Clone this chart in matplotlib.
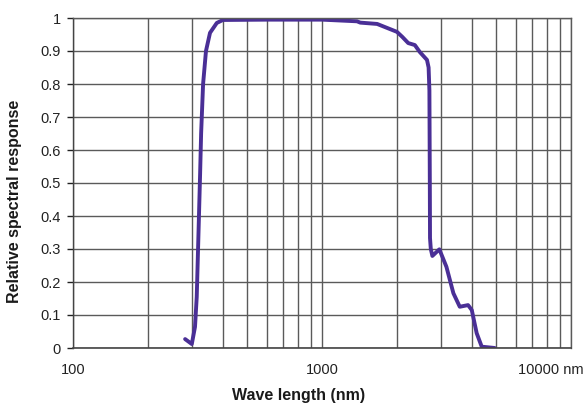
import matplotlib
matplotlib.use("Agg")
import matplotlib.pyplot as plt
import matplotlib.transforms as mtransforms
from matplotlib.ticker import FixedLocator, FixedFormatter, LogLocator, NullFormatter
from matplotlib import font_manager

wavelength = [282, 300, 309, 314, 320, 324, 327, 333, 342, 355, 378, 400, 600, 1000,
              1382, 1424, 1665, 2000, 2100, 2220, 2360, 2470, 2640, 2680, 2700, 2710,
              2715, 2735, 2775, 2960, 3160, 3370, 3575, 3860, 3995, 4180, 4380, 4940]
response = [0.027, 0.012, 0.064, 0.155, 0.38, 0.53, 0.65, 0.80, 0.90, 0.955, 0.985, 0.994, 0.995, 0.995,
            0.99, 0.986, 0.982, 0.958, 0.943, 0.924, 0.918, 0.897, 0.873, 0.85, 0.78, 0.51,
            0.333, 0.30, 0.279, 0.299, 0.246, 0.166, 0.125, 0.13, 0.115, 0.045, 0.004, 0.0]

x_ticks = [100, 1000, 10000]
x_tick_labels = ["100", "1000", "10000 nm"]
y_ticks = [0, 0.1, 0.2, 0.3, 0.4, 0.5, 0.6, 0.7, 0.8, 0.9, 1.0]
y_tick_labels = ["0", "0.1", "0.2", "0.3", "0.4", "0.5", "0.6", "0.7", "0.8", "0.9", "1"]

names = {f.name for f in font_manager.fontManager.ttflist}
label_family = ["Liberation Sans Narrow", "Liberation Sans", "DejaVu Sans"] if "Liberation Sans Narrow" in names else ["Liberation Sans", "DejaVu Sans"]
plt.rcParams['font.family'] = ["Liberation Sans", "DejaVu Sans"]

fig = plt.figure(figsize=(5.84, 4.05), dpi=100)
ax = fig.add_axes([73/584, 1 - 348/405, (571-73)/584, (348-18)/405])

ax.set_xscale("log")
ax.set_xlim(100, 10000)
ax.set_ylim(0, 1)

grid_color = "#5a5a5a"
ax.xaxis.set_major_locator(FixedLocator(x_ticks))
ax.xaxis.set_major_formatter(FixedFormatter(x_tick_labels))
ax.xaxis.set_minor_locator(LogLocator(base=10, subs=range(2, 10), numticks=20))
ax.xaxis.set_minor_formatter(NullFormatter())
ax.set_yticks(y_ticks)
ax.set_yticklabels(y_tick_labels)

ax.grid(True, which="both", axis="x", color=grid_color, linewidth=1.0)
ax.grid(True, which="major", axis="y", color=grid_color, linewidth=1.0)
ax.set_axisbelow(True)

for s in ["top", "right"]:
    ax.spines[s].set_color(grid_color)
    ax.spines[s].set_linewidth(1.0)
ax.spines["left"].set_color("#444444")
ax.spines["bottom"].set_color("#444444")
ax.spines["left"].set_linewidth(1.0)
ax.spines["bottom"].set_linewidth(1.2)

ax.tick_params(axis="x", which="both", length=0, pad=11, labelsize=10.5, colors="#222222")
ax.tick_params(axis="y", which="major", length=4, width=1, pad=5, labelsize=10.5, colors="#222222", direction="out")

# shift the last x tick label left so it stays inside the figure, as in the reference
fig.canvas.draw()
last_label = ax.get_xticklabels()[-1]
last_label.set_transform(last_label.get_transform() + mtransforms.ScaledTranslation(-20/100, 0, fig.dpi_scale_trans))

ax.plot(wavelength, response, color="#4a2f96", linewidth=2.8, solid_joinstyle="round", solid_capstyle="round")

ax.set_xlabel("Wave length (nm)", fontsize=11.5, fontweight="bold", family=label_family, color="#1a1a1a")
ax.xaxis.set_label_coords((299 - 73) / 498, -0.121)
ax.set_ylabel("Relative spectral response", fontsize=11.5, fontweight="bold", family=label_family, color="#1a1a1a")
ax.yaxis.set_label_coords(-0.102, (348 - 201.5) / 330)

fig.savefig("out.png", dpi=100, facecolor="white")
